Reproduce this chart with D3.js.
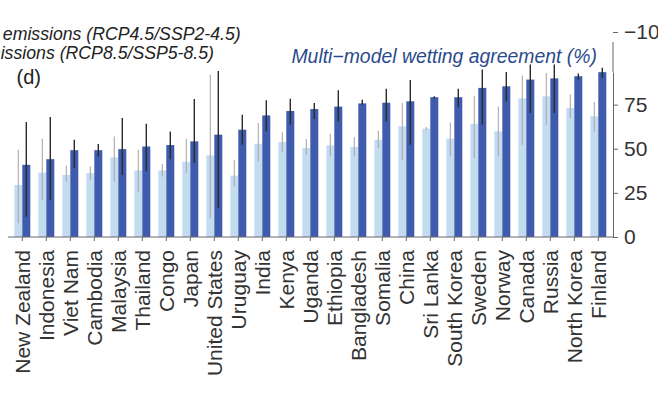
<!DOCTYPE html>
<html>
 <head>
    <meta charset="utf-8">
    <style>
        body { margin: 0; background: #fff; }
        svg { display: block; }
        text { font-family: "Liberation Sans", Arial, sans-serif; }
    </style>
    <script src="https://d3js.org/d3.v7.min.js"></script>
 </head>
 <body>
    <div id="chart"></div>
    <script>
        // countries, sorted by the high emissions agreement
        const countries = ["New Zealand", "Indonesia", "Viet Nam", "Cambodia", "Malaysia", "Thailand", "Congo",
            "Japan", "United States", "Uruguay", "India", "Kenya", "Uganda", "Ethiopia", "Bangladesh", "Somalia",
            "China", "Sri Lanka", "South Korea", "Sweden", "Norway", "Canada", "Russia", "North Korea", "Finland"];

        // medium emissions (RCP4.5/SSP2-4.5)
        const medium   = [29.5, 36.5, 35.2, 36.2, 45.1, 37.7, 37.7, 42.6, 46.2, 34.8, 52.8, 53.8, 50.4, 51.9, 51.0, 55.1, 62.7, 61.4, 55.7, 64.2, 59.8, 78.6, 79.7, 73.1, 68.4];
        const mediumLo = [7.8, 21.0, 31.4, 32.4, 31.4, 25.7, 34.3, 36.4, 10.6, 28.6, 42.8, 48.5, 46.6, 45.6, 45.6, 50.4, 43.7, 60.5, 45.6, 44.7, 45.6, 52.3, 63.6, 67.4, 59.8];
        const mediumHi = [49.4, 55.7, 40.5, 40.0, 57.0, 49.4, 41.3, 55.7, 92.0, 43.7, 64.6, 59.3, 55.5, 58.5, 56.6, 60.2, 76.0, 62.3, 64.9, 80.1, 74.0, 91.5, 93.0, 80.7, 76.5];

        // high emissions (RCP8.5/SSP5-8.5)
        const high   = [40.9, 44.1, 49.2, 49.2, 49.8, 51.3, 52.1, 54.2, 58.0, 60.8, 68.9, 71.4, 72.5, 73.9, 75.7, 76.1, 76.9, 79.2, 79.2, 84.5, 85.4, 89.2, 89.9, 91.1, 93.4];
        const highLo = [11.5, 21.0, 39.0, 45.6, 35.2, 37.1, 44.1, 41.9, 16.3, 52.3, 59.8, 63.6, 66.9, 65.5, 75.0, 65.5, 52.3, 78.5, 73.5, 63.6, 76.9, 70.3, 70.3, 89.2, 90.2];
        const highHi = [65.2, 68.0, 55.1, 52.7, 67.4, 64.2, 59.8, 78.2, 94.0, 69.3, 77.5, 78.4, 76.0, 83.1, 77.8, 84.0, 88.9, 79.8, 84.0, 94.9, 93.5, 97.7, 97.7, 92.6, 95.9];

        const yTicks = [0, 25, 50, 75];

        const W = 658, H = 399;
        const lightBlue = "#c4dcf2", darkBlue = "#3e5cab";

        const svg = d3.select("#chart").append("svg")
            .attr("width", W).attr("height", H);

        const x = d3.scaleBand()
            .domain(countries)
            .range([10.3, 610.3])
            .paddingInner(1 / 3)
            .paddingOuter(1 / 6);

        const xSub = d3.scaleBand()
            .domain(["medium", "high"])
            .range([0, x.bandwidth()]);

        const y = d3.scaleLinear().domain([0, 93.5]).range([237, 72]);

        const rows = countries.map((c, i) => ({
            country: c,
            medium: medium[i], mediumLo: mediumLo[i], mediumHi: mediumHi[i],
            high: high[i], highLo: highLo[i], highHi: highHi[i]
        }));

        const g = svg.selectAll("g.country")
            .data(rows)
            .join("g")
            .attr("class", "country")
            .attr("transform", d => "translate(" + x(d.country) + ",0)");

        // light bars
        g.append("rect")
            .attr("x", xSub("medium"))
            .attr("width", xSub.bandwidth())
            .attr("y", d => y(d.medium))
            .attr("height", d => y(0) - y(d.medium))
            .attr("fill", lightBlue);

        g.append("line")
            .attr("x1", xSub("medium") + xSub.bandwidth() / 2)
            .attr("x2", xSub("medium") + xSub.bandwidth() / 2)
            .attr("y1", d => y(d.mediumLo))
            .attr("y2", d => y(d.mediumHi))
            .attr("stroke", "#a9a9a9")
            .attr("stroke-width", 1.1);

        // dark bars
        g.append("rect")
            .attr("x", xSub("high"))
            .attr("width", xSub.bandwidth())
            .attr("y", d => y(d.high))
            .attr("height", d => y(0) - y(d.high))
            .attr("fill", darkBlue);

        g.append("line")
            .attr("x1", xSub("high") + xSub.bandwidth() / 2)
            .attr("x2", xSub("high") + xSub.bandwidth() / 2)
            .attr("y1", d => y(d.highLo))
            .attr("y2", d => y(d.highHi))
            .attr("stroke", "#2b2b2b")
            .attr("stroke-width", 1.4);

        // x axis
        const xAxis = svg.append("g")
            .attr("transform", "translate(0," + y(0) + ")")
            .call(d3.axisBottom(x).tickSize(4).tickSizeOuter(0));
        xAxis.select(".domain").remove();
        xAxis.append("line")
            .attr("x1", 8).attr("x2", 613)
            .attr("stroke", "#666");
        xAxis.selectAll(".tick line").attr("stroke", "#666");
        xAxis.selectAll(".tick text")
            .attr("transform", "rotate(-90)")
            .attr("text-anchor", "end")
            .attr("x", -13)
            .attr("y", 7.8)
            .attr("dy", 0)
            .attr("fill", "#333")
            .style("font-size", "21px");

        // y axis on the right
        const yAxis = svg.append("g")
            .attr("transform", "translate(613,0)")
            .call(d3.axisRight(y).tickValues(yTicks).tickSize(5).tickSizeOuter(0).tickPadding(6));
        yAxis.select(".domain").attr("stroke", "#666");
        yAxis.selectAll(".tick line").attr("stroke", "#666");
        yAxis.selectAll(".tick text")
            .attr("fill", "#333")
            .style("font-size", "21px");

        // axis piece of the panel above
        const yTop = d3.scaleLinear().domain([-11, -10]).range([42, 32]);
        const topAxis = svg.append("g")
            .attr("transform", "translate(613,0)")
            .call(d3.axisRight(yTop).tickValues([-10]).tickSize(5).tickSizeOuter(0).tickPadding(6));
        topAxis.select(".domain").attr("d", "M0," + yTop(-14) + "V" + yTop(-11)).attr("stroke", "#666");
        topAxis.selectAll(".tick line").attr("stroke", "#666");
        topAxis.selectAll(".tick text")
            .attr("fill", "#333")
            .style("font-size", "21px");

        // legend (clipped at the left edge like the source figure)
        svg.append("text")
            .attr("x", 240.7).attr("y", 40)
            .attr("text-anchor", "end")
            .style("font-size", "17.7px").style("font-style", "italic")
            .attr("fill", "#222")
            .text("Medium emissions (RCP4.5/SSP2-4.5)");
        svg.append("text")
            .attr("x", 214).attr("y", 59)
            .attr("text-anchor", "end")
            .style("font-size", "17.7px").style("font-style", "italic")
            .attr("fill", "#222")
            .text("High emissions (RCP8.5/SSP5-8.5)");

        svg.append("text")
            .attr("x", 597).attr("y", 63)
            .attr("text-anchor", "end")
            .style("font-size", "19.4px").style("font-style", "italic")
            .attr("fill", "#2b4a8c")
            .text("Multi\u2212model wetting agreement (%)");

        svg.append("text")
            .attr("x", 16.5).attr("y", 84)
            .style("font-size", "20px")
            .attr("fill", "#222")
            .text("(d)");
    </script>
 </body>
</html>
